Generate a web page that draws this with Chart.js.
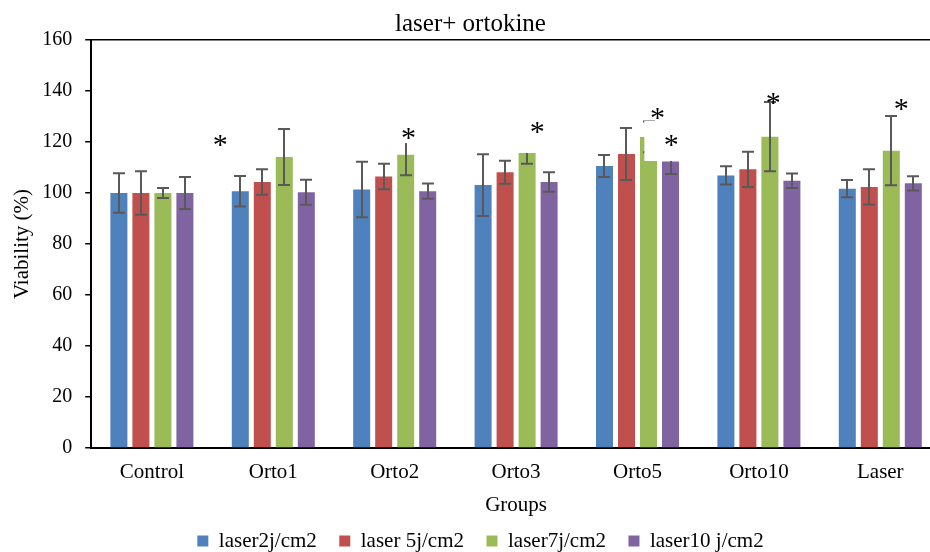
<!DOCTYPE html>
<html>
<head>
<meta charset="utf-8">
<title>laser+ ortokine</title>
<script src="https://cdn.jsdelivr.net/npm/chart.js@4.4.1/dist/chart.umd.min.js"></script>
<style>
  html, body { margin: 0; padding: 0; background: #fff; overflow: hidden; }
  #wrap { width: 945px; height: 552px; }
</style>
</head>
<body>
<div id="wrap"><canvas id="chart" width="945" height="552"></canvas></div>
<script>
// Groups on the x axis
const groups = ['Control', 'Orto1', 'Orto2', 'Orto3', 'Orto5', 'Orto10', 'Laser'];
const seriesNames = ['laser2j/cm2', 'laser 5j/cm2', 'laser7j/cm2', 'laser10 j/cm2'];

// Mean viability (%)
const laser2 = [100, 100.7, 101.4, 103.1, 110.6, 106.9, 101.7];
const laser5 = [100, 104.3, 106.5, 108.1, 115.3, 109.3, 102.4];
const laser7 = [100, 114.1, 115, 115.7, 122, 122.1, 116.6];
const laser10 = [100, 100.3, 100.7, 104.3, 112.4, 104.8, 103.8];

// Error bars (SD)
const laser2Err = [7.7, 6, 10.9, 12.1, 4.3, 3.6, 3.4];
const laser5Err = [8.5, 5, 5, 4.5, 10.2, 6.9, 6.9];
const laser7Err = [2, 11, 8, 4.2, 6, 13.6, 13.6];
const laser7ErrUp = [2, 11, 8, 0, 6, 13.6, 13.6];
const laser10Err = [6.3, 4.9, 3, 3.8, 4.9, 2.8, 2.8];

// Significance marks: position in category units, height in %
const starPos = [0.564, 2.113, 3.175, 4.164, 4.279, 5.119, 6.173];
const starVal = [120.4, 123.5, 125.5, 131, 120.4, 136.9, 134.9];
const starBox = ['', 'small', '', '', 'large', '', ''];

const colors = ['#4F81BD', '#C0504D', '#9BBB59', '#8064A2'];

Chart.defaults.font.family = '"Liberation Serif", "Times New Roman", serif';
Chart.defaults.color = '#000';

const errorBars = {
    id: 'errorBars',
    afterDatasetsDraw(chart) {
        const ctx = chart.ctx;
        const yScale = chart.scales.y;
        ctx.save();
        ctx.strokeStyle = '#595959';
        ctx.lineWidth = 2;
        chart.data.datasets.forEach((ds, di) => {
            const meta = chart.getDatasetMeta(di);
            meta.data.forEach((bar, i) => {
                const v = ds.data[i];
                const up = ds.errUp[i];
                const down = ds.errDown[i];
                const yTop = yScale.getPixelForValue(v + up);
                const yBot = yScale.getPixelForValue(v - down);
                const x = Math.round(bar.x);
                ctx.beginPath();
                ctx.moveTo(x, yTop);
                ctx.lineTo(x, yBot);
                if (up > 0) {
                    ctx.moveTo(x - 6, yTop);
                    ctx.lineTo(x + 6, yTop);
                }
                ctx.moveTo(x - 6, yBot);
                ctx.lineTo(x + 6, yBot);
                ctx.stroke();
            });
        });
        ctx.restore();
    }
};

// asterisks sit in white text boxes, like the original
const stars = {
    id: 'stars',
    afterDatasetsDraw(chart) {
        const ctx = chart.ctx;
        const xScale = chart.scales.x;
        const yScale = chart.scales.y;
        ctx.save();
        starPos.forEach((p, i) => {
            const x = xScale.getPixelForValue(p);
            const y = yScale.getPixelForValue(starVal[i]);
            ctx.fillStyle = '#fff';
            if (starBox[i] === 'small') {
                ctx.fillRect(x - 14, y - 16, 28, 26);
            } else if (starBox[i] === 'large') {
                ctx.fillRect(x - 27, y - 20, 46, 40);
            }
        });
        ctx.font = '30px "Liberation Serif"';
        ctx.fillStyle = '#000';
        ctx.textAlign = 'center';
        ctx.textBaseline = 'alphabetic';
        const m = ctx.measureText('*');
        const mid = (m.actualBoundingBoxAscent - m.actualBoundingBoxDescent) / 2;
        starPos.forEach((p, i) => {
            const x = xScale.getPixelForValue(p);
            const y = yScale.getPixelForValue(starVal[i]);
            ctx.fillText('*', x, y + mid);
        });
        ctx.restore();
    }
};

// nudge the legend a little to the right, as in the original
const legendShift = {
    id: 'legendShift',
    afterLayout(chart) {
        if (chart.legend) {
            chart.legend.left += 10;
            chart.legend.right += 10;
        }
    }
};

const values = [laser2, laser5, laser7, laser10];
const errs = [laser2Err, laser5Err, laser7Err, laser10Err];
const errsUp = [laser2Err, laser5Err, laser7ErrUp, laser10Err];

const datasets = seriesNames.map((name, i) => ({
    label: name,
    data: values[i],
    errUp: errsUp[i],
    errDown: errs[i],
    backgroundColor: colors[i],
    borderWidth: 0,
    barPercentage: 0.773,
    categoryPercentage: 0.725
}));

new Chart(document.getElementById('chart'), {
    type: 'bar',
    data: { labels: groups, datasets: datasets },
    options: {
        responsive: false,
        animation: false,
        layout: { padding: { left: 0, right: 4, top: 0, bottom: -9.5 } },
        plugins: {
            title: {
                display: true,
                text: 'laser+ ortokine',
                color: '#000',
                font: { size: 25, weight: 'normal' },
                padding: { top: 9, bottom: 1 }
            },
            legend: {
                position: 'bottom',
                labels: {
                    boxWidth: 11,
                    boxHeight: 11,
                    padding: 22.5,
                    color: '#000',
                    font: { size: 21 }
                }
            },
            tooltip: { enabled: false }
        },
        scales: {
            x: {
                grid: { display: false, drawTicks: false },
                border: { color: '#000', width: 2 },
                ticks: { color: '#000', font: { size: 21 }, padding: 12 },
                title: {
                    display: true,
                    text: 'Groups',
                    color: '#000',
                    font: { size: 21 },
                    padding: { top: -4.4, bottom: -10 }
                }
            },
            y: {
                min: 0,
                max: 160,
                ticks: { stepSize: 20, color: '#000', font: { size: 20 }, padding: 13 },
                grid: {
                    color: (c) => (c.tick && c.tick.value === 160 ? '#000' : 'rgba(0,0,0,0)'),
                    lineWidth: 1.5,
                    tickColor: '#000',
                    tickLength: 6,
                    tickWidth: 1.5
                },
                border: { color: '#000', width: 2 },
                title: {
                    display: true,
                    text: 'Viability (%)',
                    color: '#000',
                    font: { size: 21 },
                    padding: { top: 10, bottom: -6 }
                }
            }
        }
    },
    plugins: [errorBars, stars, legendShift]
});
</script>
</body>
</html>
